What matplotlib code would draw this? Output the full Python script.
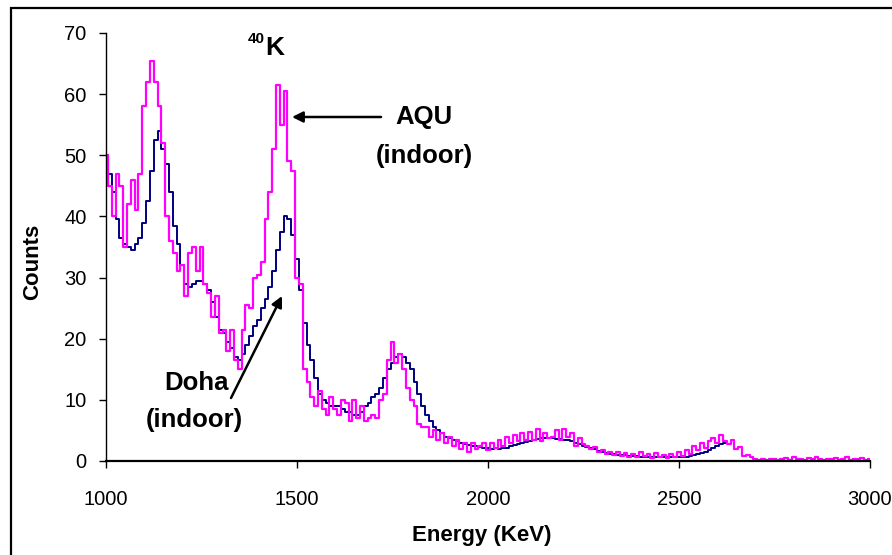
import numpy as np
import matplotlib
matplotlib.use("Agg")
import matplotlib.pyplot as plt
from matplotlib.patches import Rectangle

plt.rcParams['font.family'] = ['Liberation Sans', 'DejaVu Sans']

# ---- data ----
doha_energy = np.arange(1000, 2621, 10)
doha_counts = [
    50, 47, 44, 39.5, 36.5, 35.5, 35, 34.5, 35.5, 36.5,
    39, 42.5, 47.5, 52.5, 54, 51, 48.5, 44, 38.5, 35.5,
    32, 29, 28.5, 29, 29.5, 29.5, 29, 28, 26, 23.5,
    21.5, 21, 19.5, 18.5, 17, 16.5, 17.5, 19, 20.5, 22,
    23, 25, 26.5, 28.5, 31, 34.5, 37.5, 40, 39.5, 37,
    33, 28, 22.5, 19, 16.5, 13.5, 11, 10, 9.5, 9,
    9, 9, 8.5, 8, 8, 7.5, 7.5, 8, 9, 9.5,
    10.5, 11, 12, 13.5, 15, 16, 17, 17.5, 17, 16,
    15, 13, 11, 9, 7.5, 6.5, 5.5, 5, 4.5, 4,
    3.7, 3.4, 3.2, 3, 2.8, 2.6, 2.5, 2.4, 2.3, 2.2,
    2.1, 2.0, 2.1, 2.0, 2.1, 2.2, 2.4, 2.6, 2.8, 3.0,
    3.1, 3.3, 3.5, 3.6, 3.7, 3.7, 3.8, 3.7, 3.6, 3.6,
    3.5, 3.4, 3.2, 2.9, 2.7, 2.5, 2.3, 2.1, 1.9, 1.7,
    1.5, 1.3, 1.2, 1.1, 1.0, 0.9, 0.9, 0.8, 0.8, 0.8,
    0.7, 0.7, 0.7, 0.7, 0.6, 0.6, 0.6, 0.6, 0.6, 0.6,
    0.6, 0.7, 0.7, 0.8, 0.9, 1.1, 1.3, 1.5, 1.8, 2.1,
    2.4, 2.7, 2.9,
]

aqu_energy = np.arange(1000, 3001, 10)
aqu_counts = [
    50, 45, 40, 47, 45, 35, 42, 46, 41, 47,
    58, 62, 65.5, 62, 58, 52, 40, 36, 34, 31,
    32, 27, 34, 35, 31, 35, 29, 27.5, 23.5, 27,
    21, 21.5, 18, 21.5, 16.5, 15, 21.5, 25.5, 25, 30,
    30.5, 32.5, 39.5, 44, 51, 61.5, 55, 60.5, 49, 47.5,
    30, 29, 15, 13, 10.5, 9, 11.5, 8.5, 7.5, 10.5,
    8.5, 7.5, 10, 9.5, 6.5, 10, 7, 9, 6.5, 7,
    7.5, 7, 10, 11, 16.5, 19.5, 16, 17.5, 15, 12,
    10, 9, 6, 5.5, 5.5, 4, 5, 3.5, 4.5, 3,
    4, 2.5, 3.5, 2, 3, 1.5, 3, 2, 2.5, 3,
    1.8, 3, 2.2, 3.5, 2.5, 4, 3, 4.2, 3.2, 4.5,
    3.5, 4.8, 3.5, 5.2, 3.2, 4.5, 3.8, 4, 5, 3.5,
    5.3, 4, 4.5, 2.5, 3.8, 2.8, 2.5, 2, 2.3, 1.5,
    1.8, 1.2, 1.5, 0.9, 1.4, 0.8, 1.3, 0.7, 1.2, 0.6,
    1.4, 0.8, 1.1, 0.5, 1.3, 0.7, 1, 0.5, 1.2, 0.6,
    1.5, 0.8, 1.8, 1.2, 2.5, 1.8, 3, 2.2, 3.3, 3.8,
    3, 4.2, 3.3, 2.8, 3.4, 2, 2.3, 0.8, 1, 0.6,
    0.4, 0.2, 0.3, 0.2, 0.3, 0.4, 0.2, 0.3, 0.5, 0.2,
    0.6, 0.3, 0.4, 0.2, 0.5, 0.3, 0.6, 0.3, 0.2, 0.4,
    0.3, 0.5, 0.2, 0.3, 0.6, 0.2, 0.4, 0.3, 0.5, 0.2,
    0.4,
]

x_ticks = [1000, 1500, 2000, 2500, 3000]
y_ticks = [0, 10, 20, 30, 40, 50, 60, 70]

W, H = 892, 555
fig = plt.figure(figsize=(W / 100, H / 100), dpi=100)
ax = fig.add_axes([106 / W, 1 - 461 / H, (870 - 106) / W, (461 - 33) / H])

ax.plot(doha_energy, doha_counts, color='#000080', lw=1.4, drawstyle='steps-mid')
ax.plot(aqu_energy, aqu_counts, color='#FF00FF', lw=1.6, drawstyle='steps-mid')

ax.set_xlim(1000, 3000)
ax.set_ylim(0, 70)
ax.set_xticks(x_ticks)
ax.set_yticks(y_ticks)
ax.tick_params(axis='both', direction='out', length=5, width=1.0,
               labelsize=14.5, colors='black')
ax.tick_params(axis='x', pad=16)
ax.tick_params(axis='y', pad=9)
for s in ['top', 'right']:
    ax.spines[s].set_visible(False)
ax.spines['left'].set_linewidth(1.0)
ax.spines['bottom'].set_linewidth(1.6)

def fx(px):
    return px / W

def fy(py):
    return 1 - py / H

fig.text(fx(482), fy(535), 'Energy (KeV)', ha='center', va='center',
         fontsize=16, fontweight='bold')
fig.text(fx(33), fy(262), 'Counts', ha='center', va='center', rotation=90,
         fontsize=16, fontweight='bold')

# annotations
fig.text(fx(275), fy(48), 'K', ha='center', va='center', fontsize=19, fontweight='bold')
fig.text(fx(256), fy(39), '40', ha='center', va='center', fontsize=11, fontweight='bold')
fig.text(fx(424), fy(117), 'AQU', ha='center', va='center', fontsize=18.5, fontweight='bold')
fig.text(fx(424), fy(156), '(indoor)', ha='center', va='center', fontsize=18.5, fontweight='bold')
fig.text(fx(196), fy(383), 'Doha', ha='center', va='center', fontsize=18.5, fontweight='bold')
fig.text(fx(194), fy(420), '(indoor)', ha='center', va='center', fontsize=18.5, fontweight='bold')

arrow = dict(arrowstyle='-|>', lw=1.8, color='black', mutation_scale=16,
             shrinkA=0, shrinkB=0)
ax.annotate('', xy=(fx(292), fy(117)), xycoords='figure fraction',
            xytext=(fx(381), fy(117)), textcoords='figure fraction', arrowprops=arrow)
ax.annotate('', xy=(fx(282), fy(296)), xycoords='figure fraction',
            xytext=(fx(231), fy(398)), textcoords='figure fraction', arrowprops=arrow)

# outer frame (extends beyond right/bottom edges)
fig.patches.append(Rectangle((10.5 / W, -0.2), 1.5, fy(8.5) + 0.2,
                             transform=fig.transFigure, fill=False,
                             edgecolor='black', lw=1.6, clip_on=False))

fig.savefig('out.png', dpi=100)
